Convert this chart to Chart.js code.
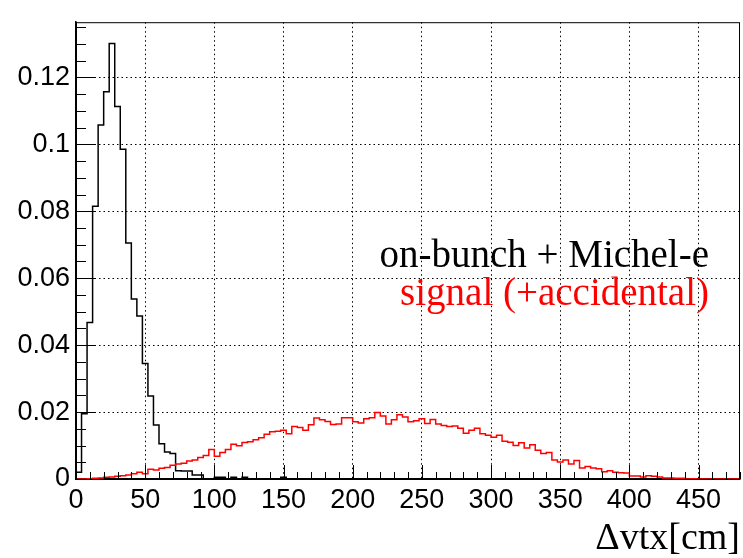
<!DOCTYPE html>
<html>
<head>
<meta charset="utf-8">
<script src="https://cdn.jsdelivr.net/npm/chart.js@4.4.1/dist/chart.umd.min.js"></script>
<style>
  html, body { margin: 0; padding: 0; background: #fff; }
  canvas { display: block; }
</style>
</head>
<body>
<canvas id="vtxGraph" width="743" height="558"></canvas>
<script>
// histogram binning: 120 bins of 4 cm, 0..480
const binWidth = 4;
const xTickValues = [0, 50, 100, 150, 200, 250, 300, 350, 400, 450];
const yTickValues = [0, 0.02, 0.04, 0.06, 0.08, 0.1, 0.12];
const legendLines = ['on-bunch + Michel-e', 'signal (+accidental)'];

// on-bunch + Michel-e (black)
const michelValues = [
    0.0020, 0.0195, 0.0468, 0.0815, 0.1058, 0.1157, 0.1301, 0.1113, 0.0985, 0.0705,
    0.0538, 0.0487, 0.0345, 0.0248, 0.0161, 0.0105, 0.0081, 0.0076, 0.0025, 0.0024,
    0.0024, 0.0012, 0.0012, 0.0000, 0.0000, 0.0005, 0.0005, 0.0000, 0.0005, 0.0000,
    0.0005, 0.0000, 0.0000, 0.0000, 0.0000, 0.0000, 0.0000, 0.0005, 0.0000, 0.0000,
    0, 0, 0, 0, 0, 0, 0, 0, 0, 0,
    0, 0, 0, 0, 0, 0, 0, 0, 0, 0,
    0, 0, 0, 0, 0, 0, 0, 0, 0, 0,
    0, 0, 0, 0, 0, 0, 0, 0, 0, 0,
    0, 0, 0, 0, 0, 0, 0, 0, 0, 0,
    0, 0, 0, 0, 0, 0, 0, 0, 0, 0,
    0, 0, 0, 0, 0, 0, 0, 0, 0, 0,
    0, 0, 0, 0, 0, 0, 0, 0, 0, 0
];

// signal (+accidental) (red)
const signalValues = [
    0.0000, 0.0000, 0.0001, 0.0002, 0.0003, 0.0005, 0.0006, 0.0008, 0.0010, 0.0012,
    0.0016, 0.0020, 0.0016, 0.0029, 0.0027, 0.0032, 0.0034, 0.0041, 0.0045, 0.0047,
    0.0054, 0.0057, 0.0064, 0.0070, 0.0088, 0.0068, 0.0079, 0.0088, 0.0104, 0.0099,
    0.0109, 0.0111, 0.0117, 0.0123, 0.0134, 0.0141, 0.0143, 0.0146, 0.0135, 0.0157,
    0.0154, 0.0146, 0.0162, 0.0182, 0.0177, 0.0172, 0.0163, 0.0164, 0.0183, 0.0183,
    0.0171, 0.0167, 0.0180, 0.0183, 0.0199, 0.0188, 0.0164, 0.0177, 0.0192, 0.0185,
    0.0171, 0.0174, 0.0180, 0.0166, 0.0178, 0.0164, 0.0160, 0.0157, 0.0158, 0.0152,
    0.0137, 0.0146, 0.0152, 0.0135, 0.0131, 0.0125, 0.0131, 0.0113, 0.0110, 0.0100,
    0.0108, 0.0093, 0.0102, 0.0086, 0.0076, 0.0079, 0.0057, 0.0051, 0.0057, 0.0045,
    0.0055, 0.0033, 0.0037, 0.0033, 0.0031, 0.0022, 0.0025, 0.0020, 0.0019, 0.0018,
    0.0009, 0.0009, 0.0006, 0.0010, 0.0008, 0.0006, 0.0003, 0.0003, 0.0002, 0.0002,
    0.0000, 0.0001, 0, 0, 0, 0, 0, 0, 0, 0
];

// bin left edges + closing point at the last right edge
function toSteps(values) {
    const pts = values.map((v, i) => ({x: i * binWidth, y: v}));
    pts.push({x: values.length * binWidth, y: values[values.length - 1]});
    return pts;
}

// ROOT style: frame box, inward major/minor ticks, text labels
const rootFrame = {
    id: 'rootFrame',
    afterDatasetsDraw(chart) {
        const {ctx, chartArea: a, scales: {x, y}} = chart;
        ctx.save();
        ctx.strokeStyle = '#000';
        ctx.lineWidth = 1;
        ctx.beginPath();
        for (let k = 0; k * 10 <= x.max; k++) {
            const px = Math.round(x.getPixelForValue(k * 10)) + 0.5;
            const len = k % 5 === 0 ? 14 : 7;
            ctx.moveTo(px, a.bottom);
            ctx.lineTo(px, a.bottom - len);
        }
        for (let k = 0; k * 0.005 <= y.max; k++) {
            const py = Math.round(y.getPixelForValue(k * 0.005)) + 0.5;
            const len = k % 4 === 0 ? 20 : 10;
            ctx.moveTo(a.left, py);
            ctx.lineTo(a.left + len, py);
        }
        ctx.stroke();
        ctx.strokeRect(a.left + 0.5, a.top + 0.5, a.right - a.left - 1, a.bottom - a.top);

        ctx.font = '39px "Liberation Serif", "Times New Roman", serif';
        ctx.textAlign = 'right';
        ctx.textBaseline = 'alphabetic';
        ctx.fillStyle = '#000';
        ctx.fillText(legendLines[0], 709, 267);
        ctx.fillStyle = '#ff0000';
        ctx.fillText(legendLines[1], 709, 305);
        ctx.restore();
    }
};

const tickFont = {family: '"Liberation Sans", Arial, sans-serif', size: 27};

const vtxChart = new Chart(document.getElementById('vtxGraph'), {
    type: 'line',
    data: {
        datasets: [{
            label: legendLines[0],
            data: toSteps(michelValues),
            borderColor: '#000',
            borderWidth: 1.5,
            stepped: 'before',
            pointRadius: 0,
            fill: false,
            order: 2
        }, {
            label: legendLines[1],
            data: toSteps(signalValues),
            borderColor: '#ff0000',
            borderWidth: 1.5,
            stepped: 'before',
            pointRadius: 0,
            fill: false,
            order: 1
        }]
    },
    options: {
        responsive: false,
        animation: false,
        layout: {padding: {top: 8, right: 3, left: 0, bottom: 0}},
        scales: {
            x: {
                type: 'linear',
                min: 0,
                max: 480,
                afterBuildTicks: (scale) => { scale.ticks = xTickValues.map(v => ({value: v})); },
                afterFit: (scale) => { scale.height = 79; },
                ticks: {
                    font: tickFont,
                    color: '#000',
                    padding: 5,
                    maxRotation: 0,
                    autoSkip: false,
                    callback: (v) => String(v)
                },
                grid: {color: '#000', lineWidth: 1, drawTicks: false},
                border: {display: true, color: '#000', width: 1.5, dash: [1.5, 3]},
                title: {
                    display: true,
                    text: 'Δvtx[cm]',
                    align: 'end',
                    color: '#000',
                    font: {family: '"Liberation Serif", "Times New Roman", serif', size: 38, lineHeight: 1},
                    padding: {top: 0, bottom: 0}
                }
            },
            y: {
                type: 'linear',
                min: 0,
                max: 0.1365,
                afterBuildTicks: (scale) => { scale.ticks = yTickValues.map(v => ({value: v})); },
                afterFit: (scale) => { scale.width = 76; },
                ticks: {
                    font: tickFont,
                    color: '#000',
                    padding: 6,
                    callback: (v) => String(Math.round(v * 100) / 100)
                },
                grid: {color: '#000', lineWidth: 1, drawTicks: false},
                border: {display: true, color: '#000', width: 1.5, dash: [1.5, 3]}
            }
        },
        plugins: {
            legend: {display: false},
            tooltip: {enabled: false}
        }
    },
    plugins: [rootFrame]
});
</script>
</body>
</html>
